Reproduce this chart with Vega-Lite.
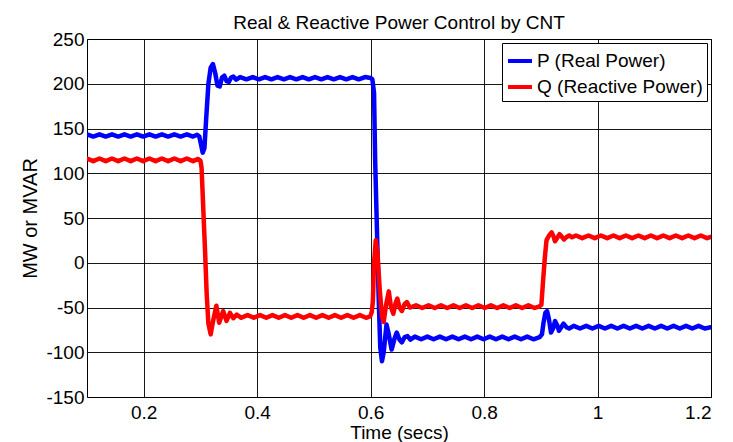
{
  "$schema": "https://vega.github.io/schema/vega-lite/v6.json",
  "width": 624,
  "height": 358,
  "autosize": {"type": "none"},
  "padding": {"left": 87, "top": 39, "right": 22, "bottom": 45},
  "background": "white",
  "title": {"text": "Real & Reactive Power Control by CNT", "fontSize": 19, "fontWeight": "normal", "font": "Liberation Sans", "color": "black", "offset": -3},
  "data": {"values": [
    {"t":0.100,"v":143.5,"s":"P (Real Power)"},{"t":0.111,"v":141,"s":"P (Real Power)"},{"t":0.122,"v":143.5,"s":"P (Real Power)"},{"t":0.133,"v":141,"s":"P (Real Power)"},{"t":0.144,"v":143.5,"s":"P (Real Power)"},{"t":0.155,"v":141,"s":"P (Real Power)"},{"t":0.166,"v":143.5,"s":"P (Real Power)"},{"t":0.177,"v":141,"s":"P (Real Power)"},{"t":0.188,"v":143.5,"s":"P (Real Power)"},{"t":0.199,"v":141,"s":"P (Real Power)"},{"t":0.210,"v":143.5,"s":"P (Real Power)"},{"t":0.221,"v":141,"s":"P (Real Power)"},{"t":0.232,"v":143.5,"s":"P (Real Power)"},{"t":0.243,"v":141,"s":"P (Real Power)"},{"t":0.254,"v":143.5,"s":"P (Real Power)"},{"t":0.265,"v":141,"s":"P (Real Power)"},{"t":0.276,"v":143.5,"s":"P (Real Power)"},{"t":0.287,"v":141,"s":"P (Real Power)"},{"t":0.294,"v":143,"s":"P (Real Power)"},{"t":0.298,"v":141,"s":"P (Real Power)"},{"t":0.301,"v":132,"s":"P (Real Power)"},{"t":0.304,"v":123,"s":"P (Real Power)"},{"t":0.307,"v":128,"s":"P (Real Power)"},{"t":0.310,"v":160,"s":"P (Real Power)"},{"t":0.314,"v":200,"s":"P (Real Power)"},{"t":0.318,"v":218,"s":"P (Real Power)"},{"t":0.322,"v":222,"s":"P (Real Power)"},{"t":0.326,"v":212,"s":"P (Real Power)"},{"t":0.330,"v":198,"s":"P (Real Power)"},{"t":0.334,"v":197,"s":"P (Real Power)"},{"t":0.338,"v":207,"s":"P (Real Power)"},{"t":0.342,"v":209,"s":"P (Real Power)"},{"t":0.346,"v":203,"s":"P (Real Power)"},{"t":0.350,"v":202,"s":"P (Real Power)"},{"t":0.354,"v":207,"s":"P (Real Power)"},{"t":0.358,"v":208,"s":"P (Real Power)"},{"t":0.363,"v":204.5,"s":"P (Real Power)"},{"t":0.370,"v":207.5,"s":"P (Real Power)"},{"t":0.381,"v":205,"s":"P (Real Power)"},{"t":0.392,"v":207.5,"s":"P (Real Power)"},{"t":0.403,"v":205,"s":"P (Real Power)"},{"t":0.414,"v":207.5,"s":"P (Real Power)"},{"t":0.425,"v":205,"s":"P (Real Power)"},{"t":0.436,"v":207.5,"s":"P (Real Power)"},{"t":0.447,"v":205,"s":"P (Real Power)"},{"t":0.458,"v":207.5,"s":"P (Real Power)"},{"t":0.469,"v":205,"s":"P (Real Power)"},{"t":0.480,"v":207.5,"s":"P (Real Power)"},{"t":0.491,"v":205,"s":"P (Real Power)"},{"t":0.502,"v":207.5,"s":"P (Real Power)"},{"t":0.513,"v":205,"s":"P (Real Power)"},{"t":0.524,"v":207.5,"s":"P (Real Power)"},{"t":0.535,"v":205,"s":"P (Real Power)"},{"t":0.546,"v":207.5,"s":"P (Real Power)"},{"t":0.557,"v":205,"s":"P (Real Power)"},{"t":0.568,"v":207.5,"s":"P (Real Power)"},{"t":0.579,"v":205,"s":"P (Real Power)"},{"t":0.590,"v":207.5,"s":"P (Real Power)"},{"t":0.600,"v":206.5,"s":"P (Real Power)"},{"t":0.603,"v":205,"s":"P (Real Power)"},{"t":0.606,"v":190,"s":"P (Real Power)"},{"t":0.608,"v":114,"s":"P (Real Power)"},{"t":0.611,"v":40,"s":"P (Real Power)"},{"t":0.614,"v":-35,"s":"P (Real Power)"},{"t":0.617,"v":-95,"s":"P (Real Power)"},{"t":0.620,"v":-110,"s":"P (Real Power)"},{"t":0.623,"v":-100,"s":"P (Real Power)"},{"t":0.628,"v":-69,"s":"P (Real Power)"},{"t":0.632,"v":-80,"s":"P (Real Power)"},{"t":0.637,"v":-97,"s":"P (Real Power)"},{"t":0.642,"v":-85,"s":"P (Real Power)"},{"t":0.646,"v":-78,"s":"P (Real Power)"},{"t":0.651,"v":-86,"s":"P (Real Power)"},{"t":0.655,"v":-89,"s":"P (Real Power)"},{"t":0.660,"v":-83,"s":"P (Real Power)"},{"t":0.665,"v":-82,"s":"P (Real Power)"},{"t":0.670,"v":-86,"s":"P (Real Power)"},{"t":0.678,"v":-82.5,"s":"P (Real Power)"},{"t":0.689,"v":-85.5,"s":"P (Real Power)"},{"t":0.700,"v":-82.5,"s":"P (Real Power)"},{"t":0.711,"v":-85.5,"s":"P (Real Power)"},{"t":0.722,"v":-82.5,"s":"P (Real Power)"},{"t":0.733,"v":-85.5,"s":"P (Real Power)"},{"t":0.744,"v":-82.5,"s":"P (Real Power)"},{"t":0.755,"v":-85.5,"s":"P (Real Power)"},{"t":0.766,"v":-82.5,"s":"P (Real Power)"},{"t":0.777,"v":-85.5,"s":"P (Real Power)"},{"t":0.788,"v":-82.5,"s":"P (Real Power)"},{"t":0.799,"v":-85.5,"s":"P (Real Power)"},{"t":0.810,"v":-82.5,"s":"P (Real Power)"},{"t":0.821,"v":-85.5,"s":"P (Real Power)"},{"t":0.832,"v":-82.5,"s":"P (Real Power)"},{"t":0.843,"v":-85.5,"s":"P (Real Power)"},{"t":0.854,"v":-82.5,"s":"P (Real Power)"},{"t":0.865,"v":-85.5,"s":"P (Real Power)"},{"t":0.876,"v":-82.5,"s":"P (Real Power)"},{"t":0.887,"v":-85.5,"s":"P (Real Power)"},{"t":0.898,"v":-83,"s":"P (Real Power)"},{"t":0.902,"v":-80,"s":"P (Real Power)"},{"t":0.905,"v":-66,"s":"P (Real Power)"},{"t":0.908,"v":-56,"s":"P (Real Power)"},{"t":0.911,"v":-54,"s":"P (Real Power)"},{"t":0.914,"v":-62,"s":"P (Real Power)"},{"t":0.918,"v":-78,"s":"P (Real Power)"},{"t":0.922,"v":-73,"s":"P (Real Power)"},{"t":0.925,"v":-65,"s":"P (Real Power)"},{"t":0.929,"v":-70,"s":"P (Real Power)"},{"t":0.932,"v":-76,"s":"P (Real Power)"},{"t":0.936,"v":-72,"s":"P (Real Power)"},{"t":0.940,"v":-68,"s":"P (Real Power)"},{"t":0.945,"v":-72,"s":"P (Real Power)"},{"t":0.950,"v":-73.5,"s":"P (Real Power)"},{"t":0.958,"v":-70.5,"s":"P (Real Power)"},{"t":0.969,"v":-73.5,"s":"P (Real Power)"},{"t":0.980,"v":-70.5,"s":"P (Real Power)"},{"t":0.991,"v":-73.5,"s":"P (Real Power)"},{"t":1.002,"v":-70.5,"s":"P (Real Power)"},{"t":1.013,"v":-73.5,"s":"P (Real Power)"},{"t":1.024,"v":-70.5,"s":"P (Real Power)"},{"t":1.035,"v":-73.5,"s":"P (Real Power)"},{"t":1.046,"v":-70.5,"s":"P (Real Power)"},{"t":1.057,"v":-73.5,"s":"P (Real Power)"},{"t":1.068,"v":-70.5,"s":"P (Real Power)"},{"t":1.079,"v":-73.5,"s":"P (Real Power)"},{"t":1.090,"v":-70.5,"s":"P (Real Power)"},{"t":1.101,"v":-73.5,"s":"P (Real Power)"},{"t":1.112,"v":-70.5,"s":"P (Real Power)"},{"t":1.123,"v":-73.5,"s":"P (Real Power)"},{"t":1.134,"v":-70.5,"s":"P (Real Power)"},{"t":1.145,"v":-73.5,"s":"P (Real Power)"},{"t":1.156,"v":-70.5,"s":"P (Real Power)"},{"t":1.167,"v":-73.5,"s":"P (Real Power)"},{"t":1.178,"v":-70.5,"s":"P (Real Power)"},{"t":1.189,"v":-73.5,"s":"P (Real Power)"},{"t":1.200,"v":-72,"s":"P (Real Power)"},
    {"t":0.100,"v":116.5,"s":"Q (Reactive Power)"},{"t":0.111,"v":113.5,"s":"Q (Reactive Power)"},{"t":0.122,"v":116.5,"s":"Q (Reactive Power)"},{"t":0.133,"v":113.5,"s":"Q (Reactive Power)"},{"t":0.144,"v":116.5,"s":"Q (Reactive Power)"},{"t":0.155,"v":113.5,"s":"Q (Reactive Power)"},{"t":0.166,"v":116.5,"s":"Q (Reactive Power)"},{"t":0.177,"v":113.5,"s":"Q (Reactive Power)"},{"t":0.188,"v":116.5,"s":"Q (Reactive Power)"},{"t":0.199,"v":113.5,"s":"Q (Reactive Power)"},{"t":0.210,"v":116.5,"s":"Q (Reactive Power)"},{"t":0.221,"v":113.5,"s":"Q (Reactive Power)"},{"t":0.232,"v":116.5,"s":"Q (Reactive Power)"},{"t":0.243,"v":113.5,"s":"Q (Reactive Power)"},{"t":0.254,"v":116.5,"s":"Q (Reactive Power)"},{"t":0.265,"v":113.5,"s":"Q (Reactive Power)"},{"t":0.276,"v":116.5,"s":"Q (Reactive Power)"},{"t":0.287,"v":113.5,"s":"Q (Reactive Power)"},{"t":0.296,"v":116,"s":"Q (Reactive Power)"},{"t":0.300,"v":114,"s":"Q (Reactive Power)"},{"t":0.302,"v":106,"s":"Q (Reactive Power)"},{"t":0.305,"v":60,"s":"Q (Reactive Power)"},{"t":0.308,"v":15,"s":"Q (Reactive Power)"},{"t":0.311,"v":-35,"s":"Q (Reactive Power)"},{"t":0.314,"v":-68,"s":"Q (Reactive Power)"},{"t":0.318,"v":-80,"s":"Q (Reactive Power)"},{"t":0.322,"v":-66,"s":"Q (Reactive Power)"},{"t":0.328,"v":-48,"s":"Q (Reactive Power)"},{"t":0.333,"v":-67,"s":"Q (Reactive Power)"},{"t":0.340,"v":-54,"s":"Q (Reactive Power)"},{"t":0.346,"v":-65,"s":"Q (Reactive Power)"},{"t":0.352,"v":-56,"s":"Q (Reactive Power)"},{"t":0.358,"v":-62,"s":"Q (Reactive Power)"},{"t":0.364,"v":-58,"s":"Q (Reactive Power)"},{"t":0.372,"v":-61.5,"s":"Q (Reactive Power)"},{"t":0.383,"v":-58.5,"s":"Q (Reactive Power)"},{"t":0.394,"v":-61.5,"s":"Q (Reactive Power)"},{"t":0.405,"v":-58.5,"s":"Q (Reactive Power)"},{"t":0.416,"v":-61.5,"s":"Q (Reactive Power)"},{"t":0.427,"v":-58.5,"s":"Q (Reactive Power)"},{"t":0.438,"v":-61.5,"s":"Q (Reactive Power)"},{"t":0.449,"v":-58.5,"s":"Q (Reactive Power)"},{"t":0.460,"v":-61.5,"s":"Q (Reactive Power)"},{"t":0.471,"v":-58.5,"s":"Q (Reactive Power)"},{"t":0.482,"v":-61.5,"s":"Q (Reactive Power)"},{"t":0.493,"v":-58.5,"s":"Q (Reactive Power)"},{"t":0.504,"v":-61.5,"s":"Q (Reactive Power)"},{"t":0.515,"v":-58.5,"s":"Q (Reactive Power)"},{"t":0.526,"v":-61.5,"s":"Q (Reactive Power)"},{"t":0.537,"v":-58.5,"s":"Q (Reactive Power)"},{"t":0.548,"v":-61.5,"s":"Q (Reactive Power)"},{"t":0.559,"v":-58.5,"s":"Q (Reactive Power)"},{"t":0.570,"v":-61.5,"s":"Q (Reactive Power)"},{"t":0.581,"v":-58.5,"s":"Q (Reactive Power)"},{"t":0.592,"v":-61.5,"s":"Q (Reactive Power)"},{"t":0.599,"v":-60,"s":"Q (Reactive Power)"},{"t":0.602,"v":-55,"s":"Q (Reactive Power)"},{"t":0.604,"v":-43,"s":"Q (Reactive Power)"},{"t":0.606,"v":0,"s":"Q (Reactive Power)"},{"t":0.609,"v":25,"s":"Q (Reactive Power)"},{"t":0.612,"v":12,"s":"Q (Reactive Power)"},{"t":0.616,"v":-30,"s":"Q (Reactive Power)"},{"t":0.620,"v":-60,"s":"Q (Reactive Power)"},{"t":0.623,"v":-66,"s":"Q (Reactive Power)"},{"t":0.627,"v":-48,"s":"Q (Reactive Power)"},{"t":0.632,"v":-32,"s":"Q (Reactive Power)"},{"t":0.636,"v":-50,"s":"Q (Reactive Power)"},{"t":0.640,"v":-57,"s":"Q (Reactive Power)"},{"t":0.644,"v":-45,"s":"Q (Reactive Power)"},{"t":0.647,"v":-40,"s":"Q (Reactive Power)"},{"t":0.651,"v":-50,"s":"Q (Reactive Power)"},{"t":0.655,"v":-54,"s":"Q (Reactive Power)"},{"t":0.660,"v":-46,"s":"Q (Reactive Power)"},{"t":0.664,"v":-44,"s":"Q (Reactive Power)"},{"t":0.669,"v":-50,"s":"Q (Reactive Power)"},{"t":0.674,"v":-49,"s":"Q (Reactive Power)"},{"t":0.680,"v":-47.5,"s":"Q (Reactive Power)"},{"t":0.691,"v":-50.5,"s":"Q (Reactive Power)"},{"t":0.702,"v":-47.5,"s":"Q (Reactive Power)"},{"t":0.713,"v":-50.5,"s":"Q (Reactive Power)"},{"t":0.724,"v":-47.5,"s":"Q (Reactive Power)"},{"t":0.735,"v":-50.5,"s":"Q (Reactive Power)"},{"t":0.746,"v":-47.5,"s":"Q (Reactive Power)"},{"t":0.757,"v":-50.5,"s":"Q (Reactive Power)"},{"t":0.768,"v":-47.5,"s":"Q (Reactive Power)"},{"t":0.779,"v":-50.5,"s":"Q (Reactive Power)"},{"t":0.790,"v":-47.5,"s":"Q (Reactive Power)"},{"t":0.801,"v":-50.5,"s":"Q (Reactive Power)"},{"t":0.812,"v":-47.5,"s":"Q (Reactive Power)"},{"t":0.823,"v":-50.5,"s":"Q (Reactive Power)"},{"t":0.834,"v":-47.5,"s":"Q (Reactive Power)"},{"t":0.845,"v":-50.5,"s":"Q (Reactive Power)"},{"t":0.856,"v":-47.5,"s":"Q (Reactive Power)"},{"t":0.867,"v":-50.5,"s":"Q (Reactive Power)"},{"t":0.878,"v":-47.5,"s":"Q (Reactive Power)"},{"t":0.889,"v":-50.5,"s":"Q (Reactive Power)"},{"t":0.897,"v":-49,"s":"Q (Reactive Power)"},{"t":0.901,"v":-47,"s":"Q (Reactive Power)"},{"t":0.904,"v":-20,"s":"Q (Reactive Power)"},{"t":0.907,"v":5,"s":"Q (Reactive Power)"},{"t":0.910,"v":25,"s":"Q (Reactive Power)"},{"t":0.914,"v":30,"s":"Q (Reactive Power)"},{"t":0.919,"v":34,"s":"Q (Reactive Power)"},{"t":0.922,"v":30,"s":"Q (Reactive Power)"},{"t":0.925,"v":24,"s":"Q (Reactive Power)"},{"t":0.929,"v":28,"s":"Q (Reactive Power)"},{"t":0.933,"v":32,"s":"Q (Reactive Power)"},{"t":0.937,"v":29,"s":"Q (Reactive Power)"},{"t":0.941,"v":26,"s":"Q (Reactive Power)"},{"t":0.945,"v":28.5,"s":"Q (Reactive Power)"},{"t":0.950,"v":30.5,"s":"Q (Reactive Power)"},{"t":0.955,"v":28.5,"s":"Q (Reactive Power)"},{"t":0.962,"v":30.5,"s":"Q (Reactive Power)"},{"t":0.973,"v":27.5,"s":"Q (Reactive Power)"},{"t":0.984,"v":30.5,"s":"Q (Reactive Power)"},{"t":0.995,"v":27.5,"s":"Q (Reactive Power)"},{"t":1.006,"v":30.5,"s":"Q (Reactive Power)"},{"t":1.017,"v":27.5,"s":"Q (Reactive Power)"},{"t":1.028,"v":30.5,"s":"Q (Reactive Power)"},{"t":1.039,"v":27.5,"s":"Q (Reactive Power)"},{"t":1.050,"v":30.5,"s":"Q (Reactive Power)"},{"t":1.061,"v":27.5,"s":"Q (Reactive Power)"},{"t":1.072,"v":30.5,"s":"Q (Reactive Power)"},{"t":1.083,"v":27.5,"s":"Q (Reactive Power)"},{"t":1.094,"v":30.5,"s":"Q (Reactive Power)"},{"t":1.105,"v":27.5,"s":"Q (Reactive Power)"},{"t":1.116,"v":30.5,"s":"Q (Reactive Power)"},{"t":1.127,"v":27.5,"s":"Q (Reactive Power)"},{"t":1.138,"v":30.5,"s":"Q (Reactive Power)"},{"t":1.149,"v":27.5,"s":"Q (Reactive Power)"},{"t":1.160,"v":30.5,"s":"Q (Reactive Power)"},{"t":1.171,"v":27.5,"s":"Q (Reactive Power)"},{"t":1.182,"v":30.5,"s":"Q (Reactive Power)"},{"t":1.193,"v":27.5,"s":"Q (Reactive Power)"},{"t":1.200,"v":29,"s":"Q (Reactive Power)"}
  ]},
  "mark": {"type": "line", "strokeWidth": 4.5, "strokeJoin": "round", "strokeCap": "round", "clip": true},
  "encoding": {
    "x": {"field": "t", "type": "quantitative",
      "scale": {"domain": [0.1, 1.2], "nice": false, "zero": false},
      "axis": {"values": [0.2, 0.4, 0.6, 0.8, 1, 1.2], "format": "~g", "title": "Time (secs)", "labelPadding": 6, "titleY": 41, "titleBaseline": "alphabetic", "titleFontSize": 19}},
    "y": {"field": "v", "type": "quantitative",
      "scale": {"domain": [-150, 250], "nice": false, "zero": false},
      "axis": {"values": [-150, -100, -50, 0, 50, 100, 150, 200, 250], "labelExpr": "'' + datum.value", "title": "MW or MVAR", "labelPadding": 3, "titleX": -51, "titleBaseline": "alphabetic"}},
    "color": {"field": "s", "type": "nominal",
      "scale": {"domain": ["P (Real Power)", "Q (Reactive Power)"], "range": ["#0000ff", "#ff0000"]},
      "legend": {"title": null, "orient": "top-right", "offset": 4, "padding": 4, "strokeColor": "black", "fillColor": "white", "symbolType": "stroke", "symbolSize": 576, "symbolStrokeWidth": 4, "labelFontSize": 19, "labelFont": "Liberation Sans", "labelColor": "black", "labelOffset": 3, "rowPadding": 2, "labelLimit": 400}}
  },
  "config": {
    "view": {"stroke": "black", "strokeWidth": 1},
    "axis": {"domain": false, "ticks": false, "grid": true, "gridColor": "black", "gridOpacity": 0.9, "gridWidth": 1, "labelFont": "Liberation Sans", "labelFontSize": 19, "labelColor": "black", "titleFont": "Liberation Sans", "titleFontSize": 20, "titleFontWeight": "normal", "titleColor": "black"}
  }
}
